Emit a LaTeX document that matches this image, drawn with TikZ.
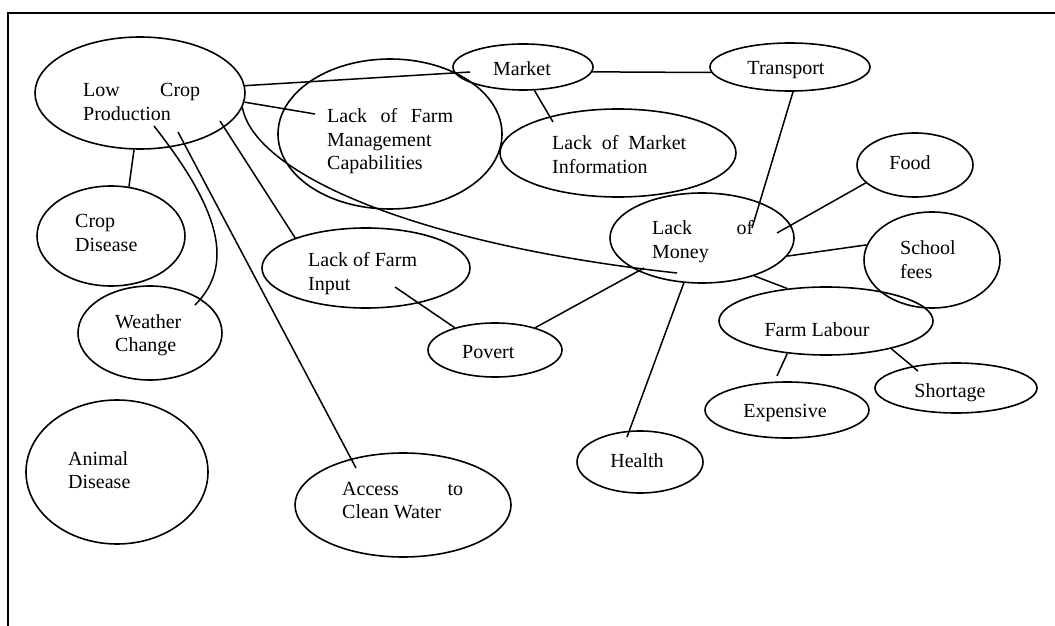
\documentclass[tikz,border=0pt]{standalone}
\usepackage{fontspec}
\setmainfont{Liberation Serif}
\usetikzlibrary{shapes.geometric,calc}
\tikzset{
  oval/.style={draw, ellipse, line width=1.6bp, inner sep=0pt},
  txt/.style={inner sep=0pt, anchor=base west, font=\fontsize{20bp}{23.5bp}\selectfont},
  ctxt/.style={inner sep=0pt, anchor=base, font=\fontsize{20bp}{23.5bp}\selectfont},
  link/.style={line width=1.5bp},
  frame/.style={line width=1.8bp}
}
\newcommand{\twol}[2]{\begin{tabular}[t]{@{}l@{}}#1\\#2\end{tabular}}
\newcommand{\threel}[3]{\begin{tabular}[t]{@{}l@{}}#1\\#2\\#3\end{tabular}}
\begin{document}
\begin{tikzpicture}[x=1bp,y=-1bp]
\useasboundingbox (0,0) rectangle (1055,626);
\draw[frame] (8,626) -- (8,13) -- (1055,13);

% ellipses
\node[oval, minimum width=210bp, minimum height=112bp] (lcp) at (140,93) {};
\node[oval, minimum width=224bp, minimum height=150bp] (lfm) at (390,134) {};
\node[oval, minimum width=140bp, minimum height=46bp] (mkt) at (523,67) {};
\node[oval, minimum width=160bp, minimum height=48bp] (tr) at (790,67) {};
\node[oval, minimum width=236bp, minimum height=88bp] (lmi) at (618,153) {};
\node[oval, minimum width=116bp, minimum height=64bp] (food) at (915,165) {};
\node[oval, minimum width=184bp, minimum height=90bp] (lom) at (702,238) {};
\node[oval, minimum width=136bp, minimum height=96bp] (sf) at (932,260) {};
\node[oval, minimum width=214bp, minimum height=68bp] (fl) at (826,321) {};
\node[oval, minimum width=162bp, minimum height=50bp] (sh) at (956,388) {};
\node[oval, minimum width=164bp, minimum height=56bp] (exp) at (787,410) {};
\node[oval, minimum width=126bp, minimum height=62bp] (hl) at (640,462) {};
\node[oval, minimum width=134bp, minimum height=54bp] (pov) at (495,350) {};
\node[oval, minimum width=208bp, minimum height=80bp] (lfi) at (366,268) {};
\node[oval, minimum width=148bp, minimum height=100bp] (cd) at (111,236) {};
\node[oval, minimum width=144bp, minimum height=94bp] (wc) at (150,333) {};
\node[oval, minimum width=182bp, minimum height=144bp] (ad) at (117,472) {};
\node[oval, minimum width=216bp, minimum height=104bp] (acw) at (403,505) {};

% texts
\node[txt] (lcpt) at (83,97) {\twol{\makebox[117bp][s]{Low Crop}}{Production}};
\node[txt] (lfmt) at (327,123) {\threel{\makebox[126bp][s]{Lack of Farm}}{Management}{Capabilities}};
\node[ctxt] (mktt) at (522,76) {Market};
\node[ctxt] (trt) at (786,75) {Transport};
\node[txt] (lmit) at (552,150) {\twol{\makebox[134bp][s]{Lack of Market}}{Information}};
\node[ctxt] (foodt) at (910,170) {Food};
\node[txt] (lomt) at (652,235) {\twol{\makebox[101bp][s]{Lack of}}{Money}};
\node[txt] (sft) at (900,255) {\twol{School}{fees}};
\node[ctxt] (flt) at (817,336) {Farm Labour};
\node[ctxt] (sht) at (950,397) {Shortage};
\node[ctxt] (expt) at (785,417) {Expensive};
\node[ctxt] (hlt) at (637,467) {Health};
\node[txt] (povt) at (462,358) {Povert};
\node[txt] (lfit) at (308,267) {\twol{Lack of Farm}{Input}};
\node[txt] (cdt) at (75,228) {\twol{Crop}{Disease}};
\node[txt] (wct) at (115,328) {\twol{Weather}{Change}};
\node[txt] (adt) at (68,465) {\twol{Animal}{Disease}};
\node[txt] (acwt) at (342,495) {\twol{\makebox[121bp][s]{Access to}}{Clean Water}};

% connectors
\draw[link] (lcp.4) -- ($(mkt.center)+(-53,5)$);
\draw[link] (lcp.-5) -- ($(lfm.center)+(-75,-20)$);
\draw[link] (lcp.-8) .. controls (255,175) and (420,245) .. ($(lom.center)+(-25,35)$);
\draw[link] ($(lcp.center)+(80,28)$) -- (lfi.157);
\draw[link] ($(lcp.center)+(38,39)$) -- ($(acw.center)+(-47,-37)$);
\draw[link] ($(lcp.center)+(14,33)$) .. controls (220,210) and (235,265) .. ($(wc.center)+(45,-28)$);
\draw[link] (lcp.-96) -- (cd.70);
\draw[link] (mkt.-4) -- (tr.184);
\draw[link] (mkt.-64) -- ($(lmi.center)+(-65,-31)$);
\draw[link] (tr.-83) -- ($(lom.center)+(50,-10)$);
\draw[link] (food.200) -- ($(lom.center)+(75,-5)$);
\draw[link] (sf.167) -- (lom.-12);
\draw[link] (lom.-36) -- (fl.140);
\draw[link] ($(lom.center)+(-58,30)$) -- (pov.29);
\draw[link] (lom.-112) -- ($(hl.center)+(-13,-25)$);
\draw[link] ($(lfi.center)+(29,19)$) -- (pov.151);
\draw[link] (fl.-140) -- ($(exp.center)+(-10,-34)$);
\draw[link] (fl.-23) -- ($(sh.center)+(-38,-17)$);
\end{tikzpicture}
\end{document}
